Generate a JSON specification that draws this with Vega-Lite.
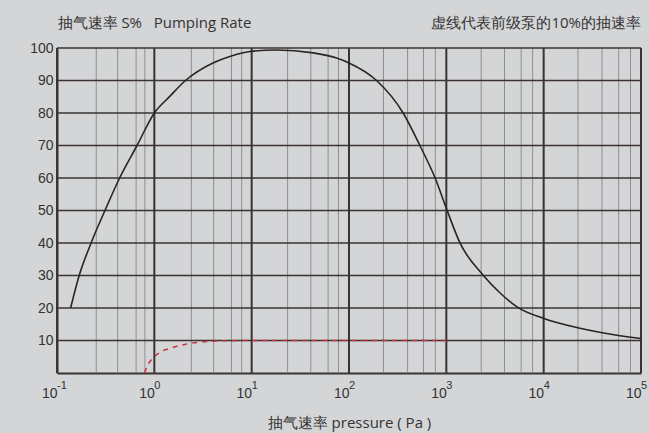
{
  "$schema": "https://vega.github.io/schema/vega-lite/v6.json",
  "width": 584,
  "height": 325,
  "autosize": "none",
  "padding": {"left": 57, "top": 48, "right": 8, "bottom": 60},
  "background": "#d4d5d7",
  "config": {
    "view": {"stroke": null},
    "axis": {
      "domainColor": "#3a3330",
      "domainWidth": 2,
      "ticks": false,
      "tickSize": 0,
      "grid": false,
      "labelFont": "Liberation Sans",
      "labelFontSize": 14,
      "labelColor": "#333333",
      "titleFont": "Open Sans",
      "titleFontSize": 15,
      "titleFontWeight": "normal",
      "titleColor": "#333333"
    }
  },
  "title": {
    "text": "虚线代表前级泵的10%的抽速率",
    "anchor": "end",
    "frame": "group",
    "orient": "top",
    "baseline": "alphabetic",
    "offset": -28,
    "font": "Open Sans",
    "fontSize": 15,
    "fontWeight": "normal",
    "color": "#333333"
  },
  "datasets": {
    "minor": [
      {"x": 0.253}, {"x": 0.42}, {"x": 0.65}, {"x": 0.8},
      {"x": 2.4}, {"x": 4.07}, {"x": 6.2}, {"x": 7.9},
      {"x": 23.4}, {"x": 40.5}, {"x": 61}, {"x": 78},
      {"x": 226}, {"x": 400}, {"x": 583}, {"x": 771},
      {"x": 2280}, {"x": 3960}, {"x": 5870}, {"x": 7700},
      {"x": 22500}, {"x": 39800}, {"x": 59000}, {"x": 78000}
    ],
    "major": [
      {"x": 0.1}, {"x": 1}, {"x": 10}, {"x": 100}, {"x": 1000}, {"x": 10000}, {"x": 100000}
    ],
    "exps": [
      {"x": 0.1, "y": 0, "e": "-1"}, {"x": 1, "y": 0, "e": "0"}, {"x": 10, "y": 0, "e": "1"},
      {"x": 100, "y": 0, "e": "2"}, {"x": 1000, "y": 0, "e": "3"}, {"x": 10000, "y": 0, "e": "4"},
      {"x": 100000, "y": 0, "e": "5"}
    ],
    "hgrid": [
      {"y": 10}, {"y": 20}, {"y": 30}, {"y": 40}, {"y": 50},
      {"y": 60}, {"y": 70}, {"y": 80}, {"y": 90}, {"y": 100}
    ],
    "curve": [
      {"x": 0.138, "y": 20}, {"x": 0.169, "y": 30}, {"x": 0.224, "y": 40},
      {"x": 0.311, "y": 50}, {"x": 0.44, "y": 60}, {"x": 0.664, "y": 70},
      {"x": 1.0, "y": 80}, {"x": 1.44, "y": 85.1}, {"x": 2.09, "y": 90},
      {"x": 4.0, "y": 95.4}, {"x": 5.96, "y": 97.4}, {"x": 10, "y": 99},
      {"x": 18, "y": 99.4}, {"x": 42.8, "y": 98.5}, {"x": 74.5, "y": 96.9},
      {"x": 100, "y": 95.4}, {"x": 192, "y": 90},
      {"x": 360, "y": 80}, {"x": 535, "y": 70},
      {"x": 767, "y": 60},
      {"x": 1020, "y": 50}, {"x": 1377, "y": 40.1}, {"x": 2390, "y": 30.1},
      {"x": 3548, "y": 24.7}, {"x": 5470, "y": 20.1}, {"x": 10000, "y": 16.8},
      {"x": 22400, "y": 13.95}, {"x": 40000, "y": 12.4}, {"x": 100000, "y": 10.6}
    ],
    "pump": [
      {"x": 0.797, "y": 0}, {"x": 0.84, "y": 2}, {"x": 0.912, "y": 3.7},
      {"x": 1.137, "y": 6.3}, {"x": 1.53, "y": 7.8}, {"x": 2.05, "y": 8.8},
      {"x": 2.93, "y": 9.5}, {"x": 5, "y": 9.9}, {"x": 10, "y": 10},
      {"x": 1000, "y": 10}
    ]
  },
  "layer": [
    {
      "data": {"name": "minor"},
      "mark": {"type": "rule", "color": "#8e8e8e", "strokeWidth": 1},
      "encoding": {
        "x": {
          "field": "x", "type": "quantitative",
          "scale": {"type": "log", "domain": [0.1, 100000], "nice": false},
          "axis": {
            "title": "抽气速率 pressure ( Pa )",
            "values": [0.1, 1, 10, 100, 1000, 10000, 100000],
            "labelExpr": "'10'",
            "labelAlign": "right",
            "labelBaseline": "alphabetic",
            "labelPadding": 24,
            "labelFlush": false,
            "labelOverlap": false,
            "titleBaseline": "alphabetic",
            "titleY": 54
          }
        }
      }
    },
    {
      "data": {"name": "hgrid"},
      "mark": {"type": "rule", "color": "#3a3330", "strokeWidth": 1.5},
      "encoding": {
        "y": {
          "field": "y", "type": "quantitative",
          "scale": {"domain": [0, 100], "nice": false},
          "axis": {
            "title": "抽气速率 S%\u00a0\u00a0 Pumping Rate",
            "values": [10, 20, 30, 40, 50, 60, 70, 80, 90, 100],
            "labelPadding": 4,
            "labelBaseline": "middle",
            "titleAngle": 0,
            "titleAlign": "left",
            "titleBaseline": "alphabetic",
            "titleX": 0,
            "titleY": -21
          }
        }
      }
    },
    {
      "data": {"name": "major"},
      "mark": {"type": "rule", "color": "#3a3330", "strokeWidth": 2},
      "encoding": {
        "x": {
          "field": "x", "type": "quantitative",
          "scale": {"type": "log", "domain": [0.1, 100000], "nice": false},
          "axis": {
            "title": "抽气速率 pressure ( Pa )",
            "values": [0.1, 1, 10, 100, 1000, 10000, 100000],
            "labelExpr": "'10'",
            "labelAlign": "right",
            "labelBaseline": "alphabetic",
            "labelPadding": 24,
            "labelFlush": false,
            "labelOverlap": false,
            "titleBaseline": "alphabetic",
            "titleY": 54
          }
        }
      }
    },
    {
      "data": {"name": "pump"},
      "mark": {"type": "line", "color": "#c8323c", "strokeWidth": 1.5, "strokeDash": [5, 5], "interpolate": "monotone"},
      "encoding": {
        "x": {
          "field": "x", "type": "quantitative",
          "scale": {"type": "log", "domain": [0.1, 100000], "nice": false},
          "axis": {
            "title": "抽气速率 pressure ( Pa )",
            "values": [0.1, 1, 10, 100, 1000, 10000, 100000],
            "labelExpr": "'10'",
            "labelAlign": "right",
            "labelBaseline": "alphabetic",
            "labelPadding": 24,
            "labelFlush": false,
            "labelOverlap": false,
            "titleBaseline": "alphabetic",
            "titleY": 54
          }
        },
        "y": {
          "field": "y", "type": "quantitative",
          "scale": {"domain": [0, 100], "nice": false},
          "axis": {
            "title": "抽气速率 S%\u00a0\u00a0 Pumping Rate",
            "values": [10, 20, 30, 40, 50, 60, 70, 80, 90, 100],
            "labelPadding": 4,
            "labelBaseline": "middle",
            "titleAngle": 0,
            "titleAlign": "left",
            "titleBaseline": "alphabetic",
            "titleX": 0,
            "titleY": -21
          }
        }
      }
    },
    {
      "data": {"name": "curve"},
      "mark": {"type": "line", "color": "#2b2422", "strokeWidth": 1.6, "interpolate": "monotone"},
      "encoding": {
        "x": {
          "field": "x", "type": "quantitative",
          "scale": {"type": "log", "domain": [0.1, 100000], "nice": false},
          "axis": {
            "title": "抽气速率 pressure ( Pa )",
            "values": [0.1, 1, 10, 100, 1000, 10000, 100000],
            "labelExpr": "'10'",
            "labelAlign": "right",
            "labelBaseline": "alphabetic",
            "labelPadding": 24,
            "labelFlush": false,
            "labelOverlap": false,
            "titleBaseline": "alphabetic",
            "titleY": 54
          }
        },
        "y": {
          "field": "y", "type": "quantitative",
          "scale": {"domain": [0, 100], "nice": false},
          "axis": {
            "title": "抽气速率 S%\u00a0\u00a0 Pumping Rate",
            "values": [10, 20, 30, 40, 50, 60, 70, 80, 90, 100],
            "labelPadding": 4,
            "labelBaseline": "middle",
            "titleAngle": 0,
            "titleAlign": "left",
            "titleBaseline": "alphabetic",
            "titleX": 0,
            "titleY": -21
          }
        }
      }
    },
    {
      "data": {"name": "exps"},
      "mark": {"type": "text", "align": "left", "baseline": "alphabetic", "dy": 16, "dx": 0, "font": "Liberation Sans", "fontSize": 11, "color": "#333333"},
      "encoding": {
        "text": {"field": "e"},
        "x": {
          "field": "x", "type": "quantitative",
          "scale": {"type": "log", "domain": [0.1, 100000], "nice": false},
          "axis": {
            "title": "抽气速率 pressure ( Pa )",
            "values": [0.1, 1, 10, 100, 1000, 10000, 100000],
            "labelExpr": "'10'",
            "labelAlign": "right",
            "labelBaseline": "alphabetic",
            "labelPadding": 24,
            "labelFlush": false,
            "labelOverlap": false,
            "titleBaseline": "alphabetic",
            "titleY": 54
          }
        },
        "y": {
          "field": "y", "type": "quantitative",
          "scale": {"domain": [0, 100], "nice": false},
          "axis": {
            "title": "抽气速率 S%\u00a0\u00a0 Pumping Rate",
            "values": [10, 20, 30, 40, 50, 60, 70, 80, 90, 100],
            "labelPadding": 4,
            "labelBaseline": "middle",
            "titleAngle": 0,
            "titleAlign": "left",
            "titleBaseline": "alphabetic",
            "titleX": 0,
            "titleY": -21
          }
        }
      }
    }
  ]
}
